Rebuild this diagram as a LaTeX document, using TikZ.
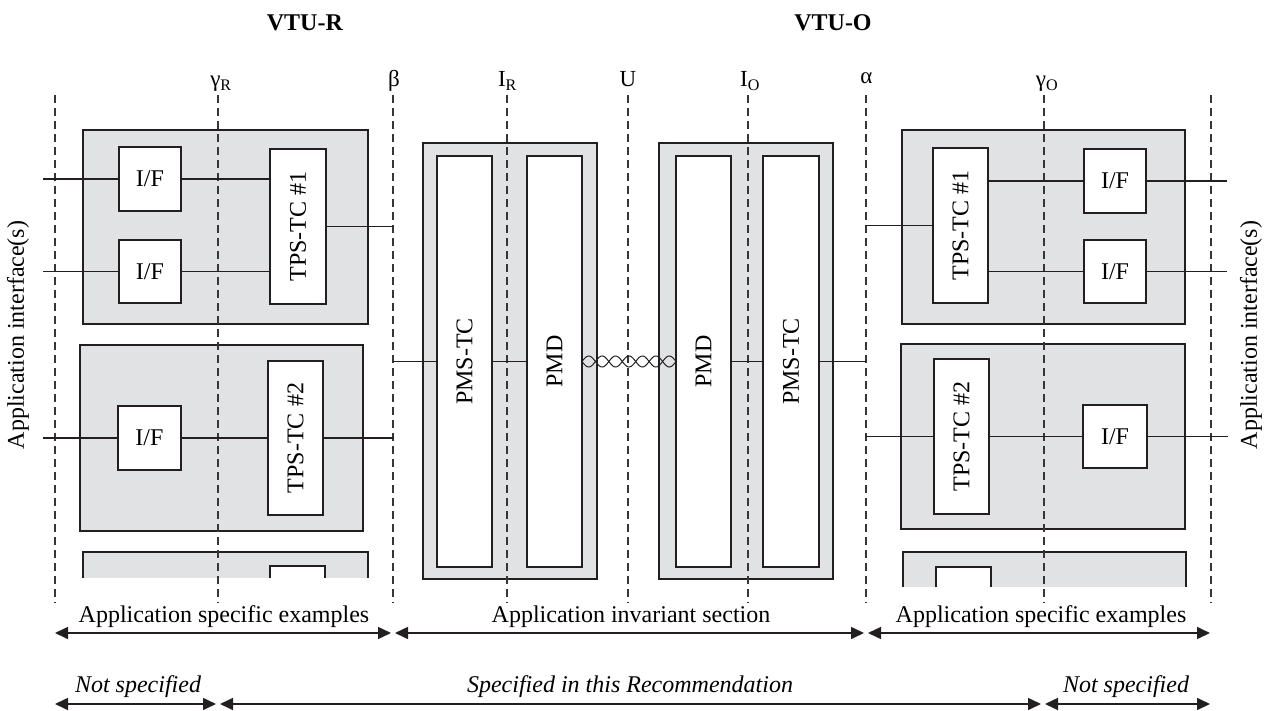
\documentclass[tikz,border=0pt]{standalone}
\usepackage{fontspec}
\setmainfont{Liberation Serif}
\usepackage{graphicx}
\usetikzlibrary{arrows.meta,calc}
\definecolor{panel}{RGB}{225,226,228}
\definecolor{ink}{RGB}{35,31,32}
\begin{document}
\begin{tikzpicture}[x=1pt,y=-1pt,
  font=\fontsize{24}{28}\selectfont,
  gbox/.style={draw=ink, fill=panel, line width=1.3pt, inner sep=0pt, outer sep=0pt, anchor=north west},
  wbox/.style={draw=ink, fill=white, line width=1.3pt, inner sep=0pt, outer sep=0pt, anchor=north west},
  wire/.style={draw=ink, line width=1.3pt},
  refline/.style={draw=ink!90, line width=1.1pt, dash pattern=on 8pt off 5pt},
  span/.style={draw=ink, line width=1.6pt, {Triangle[length=13pt,width=12pt]}-{Triangle[length=13pt,width=12pt]}},
  lbl/.style={anchor=base, inner sep=0pt},
  reflbl/.style={anchor=base, inner sep=0pt, font=\fontsize{23}{26}\selectfont}]
\useasboundingbox (0,0) rectangle (1269,711);

% ---------- gray panels ----------
\node[gbox, minimum width=285pt, minimum height=194pt] (gL1) at (83,130) {};
\node[gbox, minimum width=283pt, minimum height=186pt] (gL2) at (80,345) {};
\node[gbox, minimum width=283pt, minimum height=194pt] (gR1) at (902,130) {};
\node[gbox, minimum width=284pt, minimum height=185pt] (gR2) at (901,344) {};
\node[gbox, minimum width=174pt, minimum height=436pt] (pmsL) at (423,143) {};
\node[gbox, minimum width=174pt, minimum height=436pt] (pmsR) at (659,143) {};

% partial (cut) panels
\fill[panel] (83,552) rectangle (368,578);
\draw[ink, line width=1.3pt] (83,578) |- (368,552) -- (368,578);
\fill[white] (270,566) rectangle (325,578);
\draw[ink, line width=1.3pt] (270,578) |- (325,566) -- (325,578);
\fill[panel] (903,552) rectangle (1186,587);
\draw[ink, line width=1.3pt] (903,587) |- (1186,552) -- (1186,587);
\fill[white] (936,567) rectangle (991,587);
\draw[ink, line width=1.3pt] (936,587) |- (991,567) -- (991,587);

% ---------- reference (dashed) lines ----------
\foreach \n/\xx in {dA/55,dgR/218,dbeta/393,dIR/507,dU/628,dIO/748,dalpha/866,dgO/1044,dB/1211}{
  \coordinate (\n top) at (\xx,95);
  \coordinate (\n bot) at (\xx,603);
  \draw[refline] (\n top) -- (\n bot);
}

% ---------- white blocks ----------
\node[wbox, minimum width=62pt, minimum height=64pt] (ifL1) at (119,147) {I/F};
\node[wbox, minimum width=62pt, minimum height=63pt] (ifL2) at (119,240) {I/F};
\node[wbox, minimum width=56pt, minimum height=155pt] (tpsL1) at (270,149) {\rotatebox{90}{TPS-TC \#1}};
\node[wbox, minimum width=63pt, minimum height=64pt] (ifL3) at (118,406) {I/F};
\node[wbox, minimum width=55pt, minimum height=154pt] (tpsL2) at (268,361) {\rotatebox{90}{TPS-TC \#2}};

\node[wbox, minimum width=55pt, minimum height=411pt] (pmstcL) at (437,156) {\rotatebox{90}{PMS-TC}};
\node[wbox, minimum width=55pt, minimum height=411pt] (pmdL) at (527,156) {\rotatebox{90}{PMD}};
\node[wbox, minimum width=55pt, minimum height=411pt] (pmdR) at (676,156) {\rotatebox{90}{PMD}};
\node[wbox, minimum width=56pt, minimum height=411pt] (pmstcR) at (763,156) {\rotatebox{90}{PMS-TC}};

\node[wbox, minimum width=55pt, minimum height=155pt] (tpsR1) at (933,148) {\rotatebox{90}{TPS-TC \#1}};
\node[wbox, minimum width=62pt, minimum height=64pt] (ifR1) at (1084,149) {I/F};
\node[wbox, minimum width=62pt, minimum height=63pt] (ifR2) at (1084,240) {I/F};
\node[wbox, minimum width=55pt, minimum height=155pt] (tpsR2) at (934,359) {\rotatebox{90}{TPS-TC \#2}};
\node[wbox, minimum width=64pt, minimum height=63pt] (ifR3) at (1083,405) {I/F};

% ---------- wires ----------
\coordinate (inL1) at (43,179);
\coordinate (inL2) at (43,271.5);
\coordinate (inL3) at (43,438);
\coordinate (bL1) at (393,226.5);
\coordinate (bL2) at (394,438);
\coordinate (bM) at (393,361.5);
\coordinate (aM) at (866,361.5);
\coordinate (aR1) at (865,225.5);
\coordinate (aR2) at (865,436.5);
\coordinate (outR1) at (1227,181);
\coordinate (outR2) at (1227,271.5);
\coordinate (outR3) at (1228,436.5);

\draw[wire] (inL1) -- (ifL1.west);
\draw[wire] (ifL1.east) -- (ifL1.east -| tpsL1.west);
\draw[wire] (inL2) -- (ifL2.west);
\draw[wire] (ifL2.east) -- (ifL2.east -| tpsL1.west);
\draw[wire] (tpsL1.east) -- (bL1);
\draw[wire] (inL3) -- (ifL3.west);
\draw[wire] (ifL3.east) -- (tpsL2.west);
\draw[wire] (tpsL2.east) -- (bL2);

\draw[wire] (bM) -- (pmstcL.west);
\draw[wire] (pmstcL.east) -- (pmdL.west);
\draw[wire] (pmdR.east) -- (pmstcR.west);
\draw[wire] (pmstcR.east) -- (aM);

\draw[wire] (aR1) -- (tpsR1.west);
\draw[wire] (ifR1.west -| tpsR1.east) -- (ifR1.west);
\draw[wire] (ifR1.east) -- (outR1);
\draw[wire] (ifR2.west -| tpsR1.east) -- (ifR2.west);
\draw[wire] (ifR2.east) -- (outR2);
\draw[wire] (aR2) -- (tpsR2.west);
\draw[wire] (tpsR2.east) -- (ifR3.west);
\draw[wire] (ifR3.east) -- (outR3);

% twisted pair
\draw[ink, line width=1pt] let \p1=(pmdL.east), \p2=(pmdR.west) in
  plot[domain=0:1, samples=141, smooth, variable=\t] ({\x1+(\x2-\x1)*\t}, {\y1+5.5*sin(1260*\t)});
\draw[ink, line width=1pt] let \p1=(pmdL.east), \p2=(pmdR.west) in
  plot[domain=0:1, samples=141, smooth, variable=\t] ({\x1+(\x2-\x1)*\t}, {\y1-5.5*sin(1260*\t)});

% ---------- labels ----------
\node[lbl] (tR) at (305,31) {\textbf{VTU-R}};
\node[lbl] (tO) at (833,31) {\textbf{VTU-O}};
\node[reflbl] (lgR) at (221,87) {γ\textsubscript{R}};
\node[reflbl] (lbeta) at (394,87) {β};
\node[reflbl] (lIR) at (507.5,87) {I\textsubscript{R}};
\node[reflbl] (lU) at (628,87) {U};
\node[reflbl] (lIO) at (750,87) {I\textsubscript{O}};
\node[reflbl] (lalpha) at (866.5,84) {α};
\node[reflbl] (lgO) at (1047,87) {γ\textsubscript{O}};

\node[rotate=90, inner sep=0pt] (appL) at (18,335) {Application interface(s)};
\node[rotate=90, inner sep=0pt] (appR) at (1251,335) {Application interface(s)};

% ---------- spans ----------
\coordinate (s1a) at (55,633);  \coordinate (s1b) at (391,633);
\coordinate (s2a) at (395,633); \coordinate (s2b) at (864,633);
\coordinate (s3a) at (868,633); \coordinate (s3b) at (1210,633);
\draw[span] (s1a) -- (s1b);
\draw[span] (s2a) -- (s2b);
\draw[span] (s3a) -- (s3b);
\node[lbl] (t1) at (224,622) {Application specific examples};
\node[lbl] (t2) at (631,622) {Application invariant section};
\node[lbl] (t3) at (1041,622) {Application specific examples};

\coordinate (r1a) at (55,704);   \coordinate (r1b) at (216,704);
\coordinate (r2a) at (220,704);  \coordinate (r2b) at (1041,704);
\coordinate (r3a) at (1045,704); \coordinate (r3b) at (1210,704);
\draw[span] (r1a) -- (r1b);
\draw[span] (r2a) -- (r2b);
\draw[span] (r3a) -- (r3b);
\node[lbl] (u1) at (138,692) {\itshape Not specified};
\node[lbl] (u2) at (630,692) {\itshape Specified in this Recommendation};
\node[lbl] (u3) at (1126,692) {\itshape Not specified};
\end{tikzpicture}
\end{document}
